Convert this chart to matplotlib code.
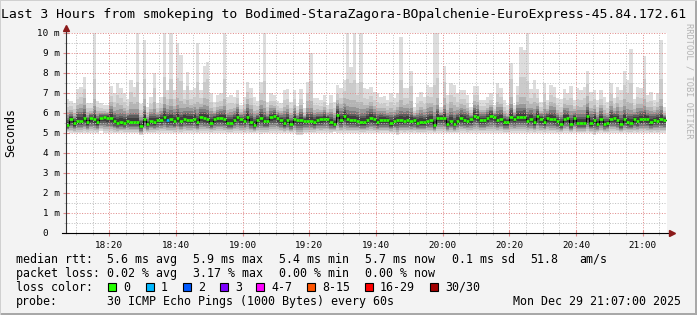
import numpy as np
import matplotlib
matplotlib.use("Agg")
import matplotlib.pyplot as plt
from matplotlib.patches import Rectangle

W, H = 697, 315
MONO = "DejaVu Sans Mono"

# one step per minute, step 0 = 18:07 ... step 179 = 21:06 (values in ms)
median_rtt = [
    5.40, 5.68, 5.48, 5.62, 5.62, 5.73, 5.55, 5.73, 5.68, 5.55,
    5.73, 5.78, 5.75, 5.75, 5.60, 5.50, 5.55, 5.52, 5.62, 5.57,
    5.57, 5.57, 5.37, 5.72, 5.45, 5.60, 5.53, 5.65, 5.65, 5.78,
    5.65, 5.68, 5.60, 5.75, 5.58, 5.72, 5.67, 5.67, 5.72, 5.55,
    5.80, 5.75, 5.68, 5.52, 5.68, 5.73, 5.73, 5.68, 5.52, 5.52,
    5.65, 5.80, 5.68, 5.62, 5.80, 5.55, 5.42, 5.65, 5.75, 5.60,
    5.60, 5.78, 5.83, 5.73, 5.65, 5.48, 5.63, 5.45, 5.68, 5.63,
    5.63, 5.62, 5.62, 5.62, 5.55, 5.65, 5.68, 5.72, 5.72, 5.55,
    5.45, 5.92, 5.65, 5.85, 5.68, 5.65, 5.65, 5.58, 5.55, 5.55,
    5.65, 5.75, 5.68, 5.55, 5.65, 5.63, 5.63, 5.48, 5.60, 5.63,
    5.65, 5.62, 5.65, 5.58, 5.65, 5.52, 5.55, 5.55, 5.58, 5.65,
    5.40, 5.77, 5.77, 5.75, 5.45, 5.60, 5.45, 5.62, 5.73, 5.65,
    5.62, 5.68, 5.85, 5.78, 5.65, 5.65, 5.73, 5.85, 5.78, 5.65,
    5.72, 5.55, 5.55, 5.82, 5.72, 5.80, 5.78, 5.82, 5.62, 5.72,
    5.55, 5.83, 5.68, 5.55, 5.75, 5.70, 5.68, 5.58, 5.43, 5.72,
    5.75, 5.43, 5.73, 5.50, 5.50, 5.50, 5.83, 5.48, 5.65, 5.45,
    5.68, 5.45, 5.48, 5.72, 5.75, 5.65, 5.43, 5.68, 5.55, 5.52,
    5.68, 5.58, 5.68, 5.72, 5.68, 5.53, 5.65, 5.62, 5.68, 5.65,
]

ping_max = [
    6.68, 6.62, 6.48, 7.18, 7.32, 7.82, 6.52, 6.48, 10.0, 6.62,
    6.48, 6.40, 6.40, 7.35, 6.98, 7.52, 7.23, 7.02, 6.68, 7.65,
    7.32, 10.0, 6.45, 9.65, 6.32, 6.82, 8.02, 6.48, 6.82, 10.0,
    7.15, 10.0, 7.15, 9.48, 8.90, 7.15, 8.07, 7.15, 7.23, 9.48,
    7.15, 8.35, 8.57, 7.02, 6.57, 6.90, 6.98, 10.0, 6.82, 6.90,
    6.82, 7.15, 6.40, 6.82, 7.57, 7.23, 6.82, 6.62, 7.57, 10.0,
    6.57, 6.98, 6.90, 6.62, 6.52, 7.15, 7.18, 6.57, 7.15, 6.35,
    7.18, 6.23, 7.57, 8.98, 6.73, 6.73, 6.65, 6.90, 6.40, 6.90,
    6.57, 7.40, 7.23, 7.65, 10.0, 8.32, 10.0, 7.48, 10.0, 7.23,
    7.18, 7.32, 7.07, 6.98, 6.82, 6.85, 6.65, 6.98, 6.73, 6.98,
    9.82, 7.23, 7.23, 8.12, 6.32, 6.82, 7.07, 6.82, 7.40, 7.32,
    10.0, 10.0, 6.32, 8.35, 6.90, 7.48, 7.40, 6.98, 7.15, 7.15,
    6.90, 6.32, 7.35, 7.35, 6.65, 6.65, 6.82, 6.98, 6.40, 7.48,
    7.23, 6.65, 6.40, 8.48, 6.40, 7.35, 9.32, 9.15, 10.0, 7.18,
    7.65, 7.18, 6.57, 7.52, 6.65, 7.40, 7.28, 6.73, 6.68, 7.18,
    7.02, 7.35, 6.65, 7.23, 7.15, 7.32, 8.12, 7.07, 7.15, 6.65,
    7.15, 6.82, 6.57, 7.48, 6.73, 7.32, 7.15, 8.12, 7.65, 9.18,
    6.68, 7.32, 7.23, 8.85, 6.90, 7.07, 6.65, 6.98, 9.65, 6.32,
]

ping_min = [
    5.05, 5.00, 5.00, 5.00, 5.00, 5.00, 5.00, 5.02, 5.00, 5.00,
    5.12, 5.00, 5.00, 5.00, 5.00, 5.00, 5.02, 5.00, 5.00, 5.00,
    5.00, 5.00, 4.88, 5.00, 5.00, 5.00, 5.00, 5.00, 5.02, 5.00,
    5.00, 5.00, 5.00, 5.00, 5.00, 5.02, 5.00, 5.00, 5.00, 5.00,
    5.00, 5.00, 5.02, 5.00, 5.00, 5.00, 5.00, 5.00, 5.00, 5.00,
    5.02, 5.00, 5.00, 5.00, 5.00, 5.00, 5.00, 5.00, 4.95, 5.00,
    5.00, 5.00, 5.00, 5.02, 5.00, 5.00, 5.00, 5.00, 5.00, 4.88,
    4.88, 5.00, 5.00, 5.00, 5.00, 5.02, 5.00, 5.00, 5.00, 5.00,
    5.07, 5.00, 5.00, 5.00, 5.00, 5.00, 5.00, 5.02, 5.00, 5.00,
    5.00, 5.00, 5.00, 5.00, 5.00, 5.00, 5.02, 5.00, 5.00, 4.88,
    5.00, 5.00, 5.00, 5.00, 5.00, 5.00, 5.00, 5.00, 5.02, 5.00,
    5.00, 5.00, 5.00, 5.00, 5.00, 5.00, 5.00, 5.00, 5.00, 5.02,
    5.00, 5.00, 5.00, 5.00, 5.00, 5.00, 5.00, 5.00, 5.00, 5.00,
    5.02, 5.00, 5.00, 5.00, 5.00, 5.00, 5.00, 5.00, 5.00, 5.00,
    5.00, 5.02, 5.00, 5.00, 5.00, 5.00, 5.00, 5.00, 5.00, 5.00,
    5.00, 5.00, 5.02, 5.00, 5.00, 5.00, 5.00, 5.00, 4.88, 5.00,
    5.00, 5.00, 5.00, 5.02, 5.00, 5.00, 5.00, 5.00, 5.00, 5.00,
    5.00, 5.00, 5.02, 5.00, 5.00, 5.00, 5.00, 5.00, 5.00, 5.00,
]

# steps with lost pings (out of 30)
loss_steps = [30]
loss_counts = [1]

time_labels = ["18:20", "18:40", "19:00", "19:20", "19:40", "20:00", "20:20", "20:40", "21:00"]
time_major = [13, 33, 53, 73, 93, 113, 133, 153, 173]
time_minor = list(range(3, 181, 5))
y_ticks = [0, 1, 2, 3, 4, 5, 6, 7, 8, 9, 10]
y_labels = ["0  ", "1 m", "2 m", "3 m", "4 m", "5 m", "6 m", "7 m", "8 m", "9 m", "10 m"]

loss_names = ["0", "1", "2", "3", "4-7", "8-15", "16-29", "30/30"]
loss_colors = ["#26ff00", "#00b8ff", "#0059ff", "#7e00ff", "#ff00ff", "#ff5500", "#ff0000", "#a00000"]

stats_rtt = ["median rtt:", "5.6 ms avg", "5.9 ms max", "5.4 ms min", "5.7 ms now", "0.1 ms sd", "51.8", "am/s"]
stats_loss = ["packet loss:", "0.02 % avg", "3.17 % max", "0.00 % min", "0.00 % now"]
probe_text = "30 ICMP Echo Pings (1000 Bytes) every 60s"
stamp_text = "Mon Dec 29 21:07:00 2025"
title = "Last 3 Hours from smokeping to Bodimed-StaraZagora-BOpalchenie-EuroExpress-45.84.172.61"

############################################## figure
fig = plt.figure(figsize=(W / 100, H / 100), dpi=100, facecolor="#f3f3f3")
ax = fig.add_axes([66 / W, 82 / H, 601 / W, 200 / H])
ax.set_facecolor("white")
ax.set_xlim(0, 180.3)
ax.set_ylim(0, 10)
for s in ax.spines.values():
    s.set_visible(False)

med = np.array(median_rtt)
hi = np.array(ping_max)
lo = np.array(ping_min)
x = np.arange(len(med) + 1)
up = hi - med
down = med - lo

def stepv(a):
    return np.append(a, a[-1])

############################################## smoke
grays = ["#dddddd", "#cbcbcb", "#b4b4b4", "#989898", "#7a7a7a", "#5c5c5c", "#3e3e3e"]
up_frac = [1.0, 0.7, 0.5, 0.38, 0.28, 0.2, 0.12]
up_cap = [99, 2.0, 1.0, 0.65, 0.45, 0.32, 0.2]
dn_frac = [1.0, 0.88, 0.75, 0.62, 0.5, 0.38, 0.24]
for g, uf, uc, df in zip(grays, up_frac, up_cap, dn_frac):
    top = med + np.minimum(up * uf, uc)
    bot = med - down * df
    ax.fill_between(x, stepv(bot), stepv(top), step="post", color=g, lw=0, zorder=1)

############################################## grid (rrdtool draws it over the smoke)
gkw = dict(lw=0.72, dashes=(1, 1.6), zorder=2)
for m in time_minor:
    if m not in time_major:
        ax.axvline(m, color="#c0c0c0", **gkw)
for m in time_major:
    ax.axvline(m, color="#e08a8a", **gkw)
for v in np.arange(0.5, 10, 1.0):
    ax.axhline(v, color="#c0c0c0", **gkw)
for v in y_ticks[1:]:
    ax.axhline(v, color="#e08a8a", **gkw)

############################################## median
ax.step(x, stepv(med), where="post", color="black", lw=0.7, zorder=4)
seg_colors = [loss_colors[0]] * len(med)
for st, c in zip(loss_steps, loss_counts):
    seg_colors[st] = loss_colors[min(c, 4)]
ax.hlines(med, x[:-1], x[1:], colors=seg_colors, lw=1.9, zorder=5)

############################################## axes
ax.plot([0, 0], [0, 10.2], color="#333333", lw=0.8, clip_on=False, zorder=6)
ax.plot([-1.2, 181.5], [0, 0], color="black", lw=0.8, clip_on=False, zorder=6)
ax.plot([0], [10.25], marker="^", ms=4, color="#8b1a1a", clip_on=False, zorder=7)
ax.plot([181.8], [0], marker=">", ms=4, color="#8b1a1a", clip_on=False, zorder=7)

ax.set_xticks(time_major, time_labels)
ax.set_xticks(time_minor, minor=True)
ax.set_yticks(y_ticks, y_labels)
ax.set_yticks(np.arange(0.5, 10, 1.0), minor=True)
ax.tick_params(axis="x", which="major", length=4, direction="inout", color="#e08a8a",
               pad=3.5, labelsize=6.7, labelfontfamily=MONO)
ax.tick_params(axis="x", which="minor", length=3, direction="inout", color="#bbbbbb")
ax.tick_params(axis="y", which="major", length=4, direction="inout", color="#e08a8a",
               pad=2.5, labelsize=6.7, labelfontfamily=MONO)
ax.tick_params(axis="y", which="minor", length=3, direction="inout", color="#bbbbbb")

############################################## texts
def ftext(px, py, s, **kw):
    kw.setdefault("family", MONO)
    fig.text(px / W, 1 - py / H, s, **kw)

ftext(1, 18, title, size=9.45, va="baseline")
ftext(11, 132, "Seconds", size=8.4, rotation=90, ha="center", va="center")
ftext(689, 23, "RRDTOOL / TOBI OETIKER", size=6.2, rotation=-90, ha="center", va="top", color="#b4b4b4")

rtt_x = [16, 107, 193, 279, 365, 452, 530, 579]
for s, px in zip(stats_rtt, rtt_x):
    ftext(px, 263, s, size=8.4, va="baseline")
for s, px in zip(stats_loss, rtt_x):
    ftext(px, 277, s, size=8.4, va="baseline")

ftext(16, 291, "loss color:", size=8.4, va="baseline")
box_x = [108, 146, 183, 220, 256, 307, 365, 430]
for name, c, bx in zip(loss_names, loss_colors, box_x):
    fig.add_artist(Rectangle((bx / W, (H - 291) / H), 8 / W, 8 / H, transform=fig.transFigure,
                             facecolor=c, edgecolor="black", lw=0.8))
    ftext(bx + 15, 291, name, size=8.4, va="baseline")

ftext(16, 305, "probe:", size=8.4, va="baseline")
ftext(107, 305, probe_text, size=8.4, va="baseline")
ftext(681, 305, stamp_text, size=8.4, va="baseline", ha="right")

# frame
fig.add_artist(Rectangle((0, 0), 1, 2 / H, transform=fig.transFigure, color="#a8a8a8", lw=0))
fig.add_artist(Rectangle(((W - 2) / W, 0), 2 / W, 1, transform=fig.transFigure, color="#a8a8a8", lw=0))
fig.add_artist(Rectangle((0, 0), 1 / W, 1, transform=fig.transFigure, color="#d0d0d0", lw=0))
fig.add_artist(Rectangle((0, (H - 1) / H), 1, 1 / H, transform=fig.transFigure, color="#d0d0d0", lw=0))

fig.savefig("out.png", dpi=100, facecolor=fig.get_facecolor())
